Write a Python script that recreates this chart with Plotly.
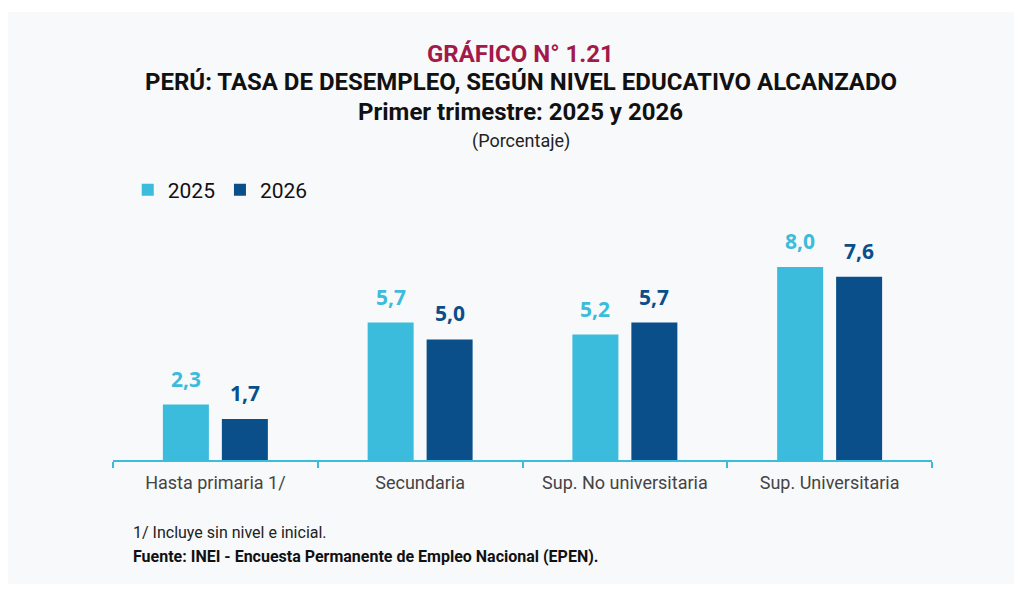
import plotly.graph_objects as go

# data
categorias = ["Hasta primaria 1/", "Secundaria", "Sup. No universitaria", "Sup. Universitaria"]
tasa_2025 = [2.3, 5.7, 5.2, 8.0]
tasa_2026 = [1.7, 5.0, 5.7, 7.6]

col_2025 = "#3bbcdc"
col_2026 = "#0b4f8a"
fuente = "Roboto"

fig = go.Figure()

fig.add_trace(go.Bar(x=categorias, y=tasa_2025, name="2025",
                     marker=dict(color=col_2025, line=dict(width=0))))
fig.add_trace(go.Bar(x=categorias, y=tasa_2026, name="2026",
                     marker=dict(color=col_2026, line=dict(width=0))))

# value labels above each bar
def fmt(v):
    return f"{v:.1f}".replace(".", ",")

for serie, color, shift in [(tasa_2025, col_2025, -29.5), (tasa_2026, col_2026, 29.5)]:
    for cat, val in zip(categorias, serie):
        fig.add_annotation(x=cat, y=val, xshift=shift, yshift=10, yanchor="bottom",
                           text=f"<b>{fmt(val)}</b>", showarrow=False,
                           font=dict(family="Noto Sans", size=21, color=color))

# titles
titulos = [
    ("<b>GRÁFICO N° 1.21</b>", 1.871, 24, "#a3194a"),
    ("<b>PERÚ: TASA DE DESEMPLEO, SEGÚN NIVEL EDUCATIVO ALCANZADO</b>", 1.742, 24, "#111111"),
    ("<b>Primer trimestre: 2025 y 2026</b>", 1.604, 24, "#111111"),
    ("(Porcentaje)", 1.470, 18, "#222222"),
]
for txt, yy, sz, c in titulos:
    fig.add_annotation(x=0.498, y=yy, xref="paper", yref="paper", text=txt, showarrow=False,
                       xanchor="center", yanchor="middle", font=dict(family=fuente, size=sz, color=c))

# footnotes
fig.add_annotation(x=0.022, y=-0.332, xref="paper", yref="paper", xanchor="left", yanchor="middle",
                   text="1/ Incluye sin nivel e inicial.", showarrow=False,
                   font=dict(family=fuente, size=16, color="#222222"))
fig.add_annotation(x=0.022, y=-0.447, xref="paper", yref="paper", xanchor="left", yanchor="middle",
                   text="<b>Fuente: INEI - Encuesta Permanente de Empleo Nacional (EPEN).</b>", showarrow=False,
                   font=dict(family=fuente, size=16, color="#111111"))

# grey card background with white border
fig.add_shape(type="rect", xref="paper", yref="paper", x0=-0.1294, x1=1.1026, y0=-0.571, y1=2.0645,
              fillcolor="#f8f9fb", line=dict(width=0), layer="below")

fig.update_layout(
    width=1014, height=581,
    margin=dict(l=105, r=90, t=235, b=129),
    paper_bgcolor="white", plot_bgcolor="rgba(0,0,0,0)",
    bargap=0.424, bargroupgap=0.22,
    separators=",.",
    showlegend=True,
    legend=dict(orientation="h", x=0.018, y=1.244, xanchor="left", yanchor="middle",
                font=dict(family=fuente, size=21, color="#111111"), bgcolor="rgba(0,0,0,0)",
                itemwidth=30, traceorder="normal"),
    font=dict(family=fuente),
)
fig.update_xaxes(showline=True, linecolor=col_2025, linewidth=2, ticks="outside", tickson="boundaries",
                 tickcolor=col_2025, tickwidth=2, ticklen=6, showgrid=False, ticklabelstandoff=5,
                 tickfont=dict(family=fuente, size=18, color="#444444"), range=[-0.5, 3.5])
fig.update_yaxes(visible=False, range=[0, 9], showgrid=False, zeroline=False)

fig.write_html("out.html")
